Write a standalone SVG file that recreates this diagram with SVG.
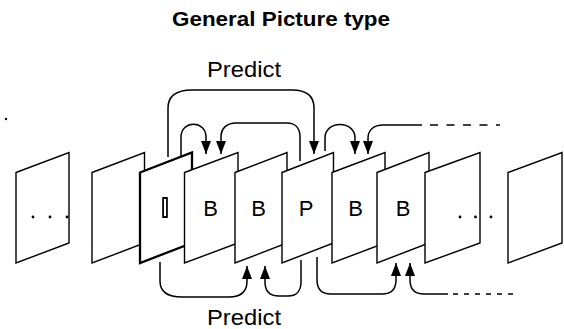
<svg xmlns="http://www.w3.org/2000/svg" width="564" height="329" viewBox="0 0 564 329">
<style>
.fr{fill:#fff;stroke:#000;stroke-width:1.4;stroke-linejoin:miter}
.fi{fill:#fff;stroke:#000;stroke-width:2.3;stroke-linejoin:miter}
.cn{fill:none;stroke:#000;stroke-width:1.5}
.lb{font-family:"Liberation Sans",Arial,sans-serif;font-size:22px;fill:#000;text-anchor:middle}
.tt{font-family:"Liberation Sans",Arial,sans-serif;fill:#000;text-anchor:middle}
.dot{fill:#000}
</style>
<defs>
<marker id="ah" viewBox="0 0 13 10" refX="13" refY="5" markerWidth="13" markerHeight="10" markerUnits="userSpaceOnUse" orient="auto">
<path d="M0,0 L13,5 L0,10 Z" fill="#000"/>
</marker>
<filter id="gray" x="-50%" y="-20%" width="200%" height="140%"><feOffset dx="0" dy="0"/></filter>
</defs>
<text class="tt" x="281" y="26" font-size="21" font-weight="bold" textLength="218" lengthAdjust="spacingAndGlyphs">General Picture type</text>
<text class="tt" x="244" y="77" font-size="22" textLength="74" lengthAdjust="spacingAndGlyphs">Predict</text>
<text class="tt" x="244" y="325" font-size="22" textLength="74" lengthAdjust="spacingAndGlyphs">Predict</text>
<circle class="dot" cx="6" cy="119" r="1.2"/>
<g id="frame1"><polygon class="fr" points="16,172.5 69,152.5 69,243 16,263"/>
<circle class="dot" cx="33" cy="217" r="1.4"/><circle class="dot" cx="50" cy="217" r="1.4"/><circle class="dot" cx="67" cy="217" r="1.4"/></g>
<g id="frame2"><polygon class="fr" points="92,172.5 144.5,152.5 144.5,243 92,263"/></g>
<g id="frameI"><polygon class="fi" points="140,172.5 192,152.5 192,243 140,263"/>
<text x="165" y="216.5" filter="url(#gray)" font-family="Liberation Sans, Arial, sans-serif" font-size="27" font-weight="bold" text-anchor="middle" fill="#fff" stroke="#000" stroke-width="1.8">I</text></g>
<g id="frameB1"><polygon class="fr" points="184.5,172.5 238,152.5 238,243 184.5,263"/><text class="lb" x="210.5" y="216">B</text></g>
<g id="frameB2"><polygon class="fr" points="235,172.5 287,152.5 287,243 235,263"/><text class="lb" x="258.5" y="216">B</text></g>
<g id="frameP"><polygon class="fr" points="282,172.5 333.5,152.5 333.5,243 282,263"/><text class="lb" x="306" y="216">P</text></g>
<g id="frameB3"><polygon class="fr" points="332,172.5 385,152.5 385,243 332,263"/><text class="lb" x="355.5" y="216">B</text></g>
<g id="frameB4"><polygon class="fr" points="377,172.5 429,152.5 429,243 377,263"/><text class="lb" x="403" y="216">B</text></g>
<g id="frame9"><polygon class="fr" points="425,172.5 480,152.5 480,243 425,263"/>
<circle class="dot" cx="460" cy="217" r="1.4"/><circle class="dot" cx="475.5" cy="217" r="1.4"/><circle class="dot" cx="491" cy="217" r="1.4"/></g>
<g id="frame10"><polygon class="fr" points="508,172.5 562,152.5 562,243 508,263"/></g>
<g id="connectors">
<path class="cn" d="M168,157 V108 C168,96 176,90 192,90 H292 C306,90 314,96 314,108 V154" marker-end="url(#ah)"/>
<path class="cn" d="M181,157 V137 C181,120 206,120 206,137 V154" marker-end="url(#ah)"/>
<path class="cn" d="M300,161 V137 C300,128 295,123 287,123 H236 C227,123 221,128 221,137 V154" marker-end="url(#ah)"/>
<path class="cn" d="M325,151 V138 C325,120 355,120 355,138 V154" marker-end="url(#ah)"/>
<path class="cn" d="M422,125 H383 C374,125 368,130 368,138 V154" marker-end="url(#ah)"/>
<path class="cn" d="M430,125 H500" stroke-dasharray="8 8.5"/>
<path class="cn" d="M160,262 V281 C160,292 168,297 182,297 H229 C241,297 247,291 247,281 V266" marker-end="url(#ah)"/>
<path class="cn" d="M301,260 V282 C301,291 296,296 288,296 H279 C270,296 265,291 265,282 V266" marker-end="url(#ah)"/>
<path class="cn" d="M317,257 V280 C317,289 322,294 331,294 H382 C391,294 396,289 396,280 V263" marker-end="url(#ah)"/>
<path class="cn" d="M448,294 H424 C415,294 410,289 410,280 V263" marker-end="url(#ah)"/>
<path class="cn" d="M453,294 H517" stroke-dasharray="5 6"/>
</g>
</svg>
